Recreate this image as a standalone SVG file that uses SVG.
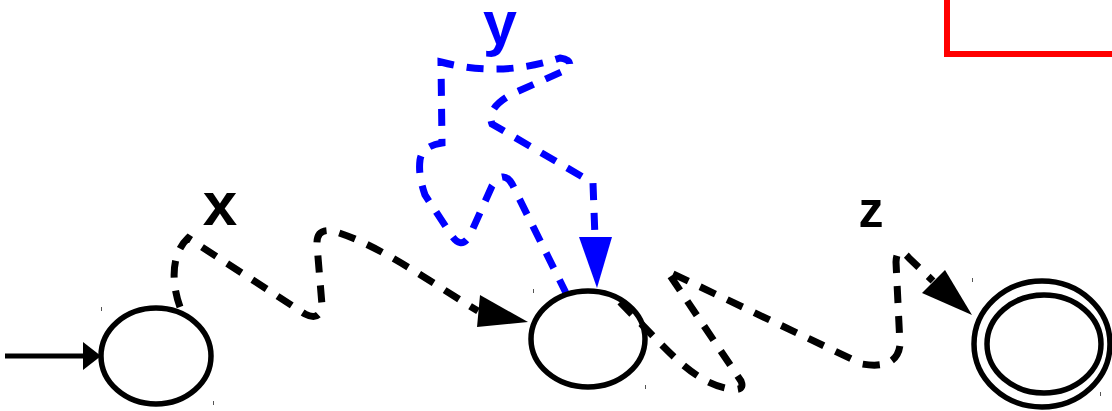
<svg xmlns="http://www.w3.org/2000/svg" width="1112" height="411" viewBox="0 0 1112 411">
<style>
.node{fill:none;stroke:#000;stroke-width:5.5}
.tick{stroke:#555;stroke-width:1}
.edge{fill:none;stroke:#000;stroke-width:7;stroke-dasharray:17 13}
.blue{stroke:#0000ff}
.head{fill:#000}
.bhead{fill:#0000ff}
.lbl{font-family:"Liberation Sans",Arial,sans-serif;font-weight:bold;text-anchor:middle}
</style>
<rect width="1112" height="411" fill="#fff"/>
<path d="M947,0 V54 H1112" fill="none" stroke="#ff0000" stroke-width="6"/>
<g id="connectors">
<g id="start">
<line x1="5" y1="356" x2="86" y2="356" stroke="#000" stroke-width="5"/>
<polygon class="head" points="83,342 101,356 83,370"/>
</g>
<g id="edge-x">
<path class="edge" d="M180,307 C172,285 170,255 188,238 L305,314 Q320,322 322,305 L317,245 Q316,228 333,231 C380,245 430,282 478,311"/>
<polygon class="head" points="480,295 477,327 528,322"/>
<text class="lbl" x="220" y="225" font-size="62">x</text>
</g>
<g id="edge-y">
<path class="edge blue" d="M567,295 L515,190 Q505,166 492,186 L470,235 Q462,250 452,236 L425,195 Q418,175 420,160 Q422,146 442,143 L441,62 Q500,78 560,58 Q574,60 568,69 L512,94 Q486,108 492,124 L593,183 L595,238"/>
<polygon class="bhead" points="579,237 612,237 597,288"/>
<text class="lbl" x="500" y="44" font-size="61" fill="#0000ff">y</text>
</g>
<g id="edge-z">
<path class="edge" d="M620,302 L655,338 C680,364 700,382 725,388 Q746,393 741,381 L667,271 L862,364 Q897,370 900,345 L896,262 Q897,244 909,258 L933,281"/>
<polygon class="head" points="922,293 945,270 972,315"/>
<text class="lbl" x="871" y="227" font-size="50">z</text>
</g>
</g>
<g id="q0">
<ellipse class="node" cx="156" cy="356" rx="55" ry="48"/>
<line class="tick" x1="101.5" y1="307" x2="101.5" y2="311"/>
<line class="tick" x1="213.5" y1="401" x2="213.5" y2="405"/>
</g>
<g id="q1">
<ellipse class="node" cx="588" cy="339" rx="57" ry="48"/>
<line class="tick" x1="533.5" y1="289" x2="533.5" y2="293"/>
<line class="tick" x1="645.5" y1="385" x2="645.5" y2="389"/>
</g>
<g id="q2">
<ellipse class="node" cx="1042" cy="344" rx="68" ry="63"/>
<ellipse class="node" cx="1044" cy="344" rx="57" ry="49"/>
<line class="tick" x1="972.5" y1="278" x2="972.5" y2="282"/>
<line class="tick" x1="1100.5" y1="392" x2="1100.5" y2="396"/>
</g>
</svg>
